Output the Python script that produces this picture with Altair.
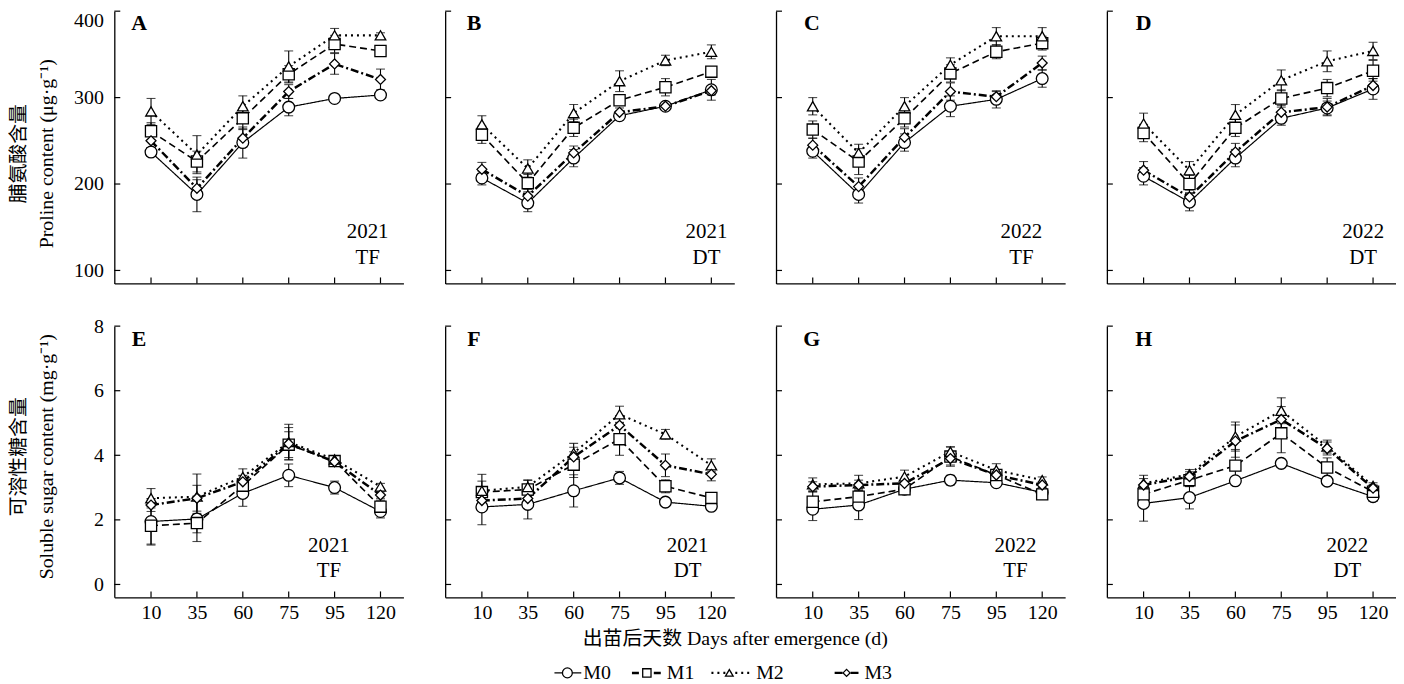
import json
import altair as alt
import pandas as pd

# ---------------- data ----------------
days = ["10", "35", "60", "75", "95", "120"]
series = ["M0", "M1", "M2", "M3"]
panel_ids = ["A", "B", "C", "D", "E", "F", "G", "H"]
panel_year = ["2021", "2021", "2022", "2022", "2021", "2021", "2022", "2022"]
panel_site = ["TF", "DT", "TF", "DT", "TF", "DT", "TF", "DT"]
proline_ticks = [100, 200, 300, 400]
sugar_ticks = [0, 2, 4, 6, 8]

# Proline content (ug/g)
A_mean = {"M0": [237, 188, 248, 289, 299, 303], "M1": [261, 226, 276, 327, 362, 354],
          "M2": [284, 234, 290, 336, 372, 372], "M3": [250, 195, 253, 307, 339, 321]}
A_err = {"M0": [5, 20, 18, 10, 3, 4], "M1": [10, 12, 12, 10, 10, 6],
         "M2": [15, 22, 12, 18, 8, 3], "M3": [8, 10, 10, 8, 12, 12]}
B_mean = {"M0": [207, 178, 230, 279, 290, 309], "M1": [257, 201, 265, 297, 312, 330],
          "M2": [269, 218, 282, 319, 343, 353], "M3": [217, 186, 236, 283, 290, 308]}
B_err = {"M0": [8, 10, 10, 5, 4, 12], "M1": [10, 10, 10, 5, 10, 5],
         "M2": [10, 10, 10, 12, 6, 8], "M3": [8, 8, 8, 5, 4, 5]}
C_mean = {"M0": [238, 188, 248, 290, 298, 322], "M1": [263, 226, 276, 328, 353, 363],
          "M2": [290, 236, 290, 338, 371, 371], "M3": [245, 197, 254, 307, 301, 340]}
C_err = {"M0": [8, 10, 10, 12, 10, 10], "M1": [10, 15, 10, 10, 8, 8],
         "M2": [10, 10, 10, 8, 10, 10], "M3": [8, 10, 10, 10, 6, 8]}
D_mean = {"M0": [209, 179, 230, 276, 288, 310], "M1": [259, 200, 265, 299, 311, 331],
          "M2": [270, 216, 280, 320, 342, 354], "M3": [216, 185, 237, 283, 289, 314]}
D_err = {"M0": [10, 10, 10, 8, 8, 12], "M1": [10, 10, 10, 10, 10, 12],
         "M2": [12, 10, 12, 12, 12, 10], "M3": [10, 8, 10, 8, 10, 8]}

# Soluble sugar content (mg/g)
E_mean = {"M0": [1.95, 2.03, 2.82, 3.38, 3.00, 2.26], "M1": [1.82, 1.90, 3.06, 4.33, 3.82, 2.41],
          "M2": [2.67, 2.72, 3.33, 4.41, 3.87, 3.03], "M3": [2.46, 2.67, 3.18, 4.36, 3.80, 2.77]}
E_err = {"M0": [0.70, 0.70, 0.40, 0.35, 0.20, 0.20], "M1": [0.60, 0.30, 0.30, 0.40, 0.10, 0.20],
         "M2": [0.30, 0.70, 0.25, 0.55, 0.10, 0.10], "M3": [0.20, 0.40, 0.20, 0.50, 0.10, 0.10]}
F_mean = {"M0": [2.40, 2.48, 2.90, 3.30, 2.55, 2.42], "M1": [2.86, 2.94, 3.71, 4.50, 3.04, 2.68],
          "M2": [2.90, 3.02, 4.07, 5.27, 4.65, 3.69], "M3": [2.60, 2.66, 3.95, 4.93, 3.69, 3.41]}
F_err = {"M0": [0.55, 0.45, 0.50, 0.20, 0.10, 0.10], "M1": [0.55, 0.30, 0.40, 0.50, 0.20, 0.10],
         "M2": [0.30, 0.20, 0.30, 0.25, 0.15, 0.20], "M3": [0.20, 0.20, 0.30, 0.30, 0.35, 0.20]}
G_mean = {"M0": [2.33, 2.46, 2.95, 3.23, 3.15, 2.85], "M1": [2.56, 2.72, 2.95, 3.96, 3.39, 2.79],
          "M2": [3.10, 3.13, 3.34, 4.11, 3.54, 3.23], "M3": [3.03, 3.08, 3.13, 3.90, 3.39, 3.08]}
G_err = {"M0": [0.35, 0.45, 0.10, 0.15, 0.10, 0.10], "M1": [0.30, 0.25, 0.10, 0.30, 0.15, 0.10],
         "M2": [0.20, 0.25, 0.20, 0.15, 0.20, 0.10], "M3": [0.15, 0.15, 0.10, 0.20, 0.10, 0.10]}
H_mean = {"M0": [2.51, 2.69, 3.21, 3.75, 3.20, 2.72], "M1": [2.79, 3.23, 3.68, 4.68, 3.62, 2.87],
          "M2": [3.13, 3.41, 4.58, 5.38, 4.27, 3.05], "M3": [3.08, 3.34, 4.44, 5.11, 4.21, 2.98]}
H_err = {"M0": [0.55, 0.35, 0.10, 0.10, 0.10, 0.15], "M1": [0.30, 0.20, 0.50, 0.60, 0.30, 0.20],
         "M2": [0.25, 0.15, 0.45, 0.40, 0.20, 0.10], "M3": [0.20, 0.15, 0.50, 0.40, 0.20, 0.10]}

means = [A_mean, B_mean, C_mean, D_mean, E_mean, F_mean, G_mean, H_mean]
errs = [A_err, B_err, C_err, D_err, E_err, F_err, G_err, H_err]

rows = []
for pid, m, e in zip(panel_ids, means, errs):
    for s in series:
        for i, d in enumerate(days):
            rows.append({"panel": pid, "series": s, "xi": i, "day": d,
                         "mean": m[s][i], "lo": m[s][i] - e[s][i], "hi": m[s][i] + e[s][i]})
df = pd.DataFrame(rows)

# ---------------- styles ----------------
FONT = "Liberation Serif, Times New Roman, Noto Sans CJK SC"
W = 291
H_TOP = 274
H_BOT = 273
dashes = [[1, 0], [7, 4], [2, 4], [8, 3, 2, 3]]
widths = [1.2, 2.5, 2.3, 2.3]
shapes = ["circle", "square", "triangle-up", "diamond"]
sizes = [140, 100, 85, 70]

letter_x = [25, 29, 36, 37]
year_x_top = [255, 263, 247, 258]
year_x_bot = [216, 244, 241, 242]

label_expr = json.dumps(days).replace('"', "'") + "[datum.value]"


def make_panel(idx):
    pid = panel_ids[idx]
    row = 0 if idx < 4 else 1
    col = idx % 4
    d = df[df.panel == pid]
    if row == 0:
        ydom, yvals, h = [85, 400], proline_ticks, H_TOP
        ytitle = ["脯氨酸含量", "Proline content (μg·g⁻¹)"]
        title_y = 143
    else:
        ydom, yvals, h = [-0.4, 8], sugar_ticks, H_BOT
        ytitle = ["可溶性糖含量", "Soluble sugar content (mg·g⁻¹)"]
        title_y = 131

    xscale = alt.Scale(domain=[-0.8, 5.5], nice=False, zero=False)
    yscale = alt.Scale(domain=ydom, nice=False, zero=False)
    xaxis = alt.Axis(values=list(range(6)), labelExpr=label_expr, labels=(row == 1),
                     ticks=False, title=None, labelPadding=5, labelFlush=False, grid=False)
    if col == 0:
        yaxis = alt.Axis(values=yvals, labels=True, ticks=False, labelPadding=11,
                         labelFlush=(row == 0), labelFlushOffset=1, grid=False, title=ytitle, titleX=-86,
                         titleY=title_y, titleLineHeight=28, titleBaseline="bottom")
    else:
        yaxis = alt.Axis(values=yvals, labels=False, ticks=False, grid=False, title=None)

    X = lambda f: alt.X(f, scale=xscale, axis=xaxis)
    Y = lambda f: alt.Y(f, scale=yscale, axis=yaxis)

    ytick = alt.Chart(pd.DataFrame({"v": yvals})).mark_rule(color="black", strokeWidth=1.2).encode(
        y=Y("v:Q"), x=alt.value(0), x2=alt.value(6))
    xtick = alt.Chart(pd.DataFrame({"xi": list(range(6))})).mark_rule(color="black", strokeWidth=1.2).encode(
        x=X("xi:Q"), y=alt.value(h), y2=alt.value(h - 6))

    base = alt.Chart(d)
    err_rule = base.mark_rule(color="black", strokeWidth=1.1).encode(
        x=X("xi:Q"), y=Y("lo:Q"), y2="hi:Q")
    cap_lo = base.mark_tick(orient="horizontal", color="black", size=9, thickness=1.1).encode(
        x=X("xi:Q"), y=Y("lo:Q"))
    cap_hi = base.mark_tick(orient="horizontal", color="black", size=9, thickness=1.1).encode(
        x=X("xi:Q"), y=Y("hi:Q"))
    lines = base.mark_line(color="black").encode(
        x=X("xi:Q"), y=Y("mean:Q"),
        detail="series:N",
        strokeDash=alt.StrokeDash("series:N", scale=alt.Scale(domain=series, range=dashes), legend=None),
        strokeWidth=alt.StrokeWidth("series:N", scale=alt.Scale(domain=series, range=widths), legend=None))
    points = base.mark_point(filled=True, fill="white", stroke="black", strokeWidth=1.3, opacity=1).encode(
        x=X("xi:Q"), y=Y("mean:Q"),
        shape=alt.Shape("series:N", scale=alt.Scale(domain=series, range=shapes), legend=None),
        size=alt.Size("series:N", scale=alt.Scale(domain=series, range=sizes), legend=None))

    letter = alt.Chart(pd.DataFrame({"t": [pid]})).mark_text(
        font=FONT, fontSize=22, fontWeight="bold", align="center", baseline="middle", color="black").encode(
        text="t:N", x=alt.value(letter_x[col]), y=alt.value(12 if row == 0 else 13))
    yx = year_x_top[col] if row == 0 else year_x_bot[col]
    yy = (222, 248) if row == 0 else (221, 246)
    year = alt.Chart(pd.DataFrame({"t": [panel_year[idx]]})).mark_text(
        font=FONT, fontSize=21, align="center", baseline="middle", color="black").encode(
        text="t:N", x=alt.value(yx), y=alt.value(yy[0]))
    site = alt.Chart(pd.DataFrame({"t": [panel_site[idx]]})).mark_text(
        font=FONT, fontSize=21, align="center", baseline="middle", color="black").encode(
        text="t:N", x=alt.value(yx), y=alt.value(yy[1]))

    return alt.layer(ytick, xtick, err_rule, cap_lo, cap_hi, lines, points, letter, year, site).properties(
        width=W, height=h)


top = alt.hconcat(*[make_panel(i) for i in range(4)], spacing=41)
bottom = alt.hconcat(*[make_panel(i) for i in range(4, 8)], spacing=41)

# ---------------- legend + shared x title ----------------
# positions below are relative to the left edge of the first plot area
leg_df = pd.DataFrame({"series": series})
leg_line_x = [(443, 470), (521, 552), (601, 640), (725, 750)]
leg_sym_x = [456, 536, 619, 737]
leg_txt_x = [472, 556, 646, 755]
LEG_Y = 49
legend_layers = []
xtitle = alt.Chart(pd.DataFrame({"t": ["出苗后天数 Days after emergence (d)"]})).mark_text(
    font=FONT, fontSize=20, align="center", baseline="middle", color="black").encode(
    text="t:N", x=alt.value(625), y=alt.value(15))
legend_layers.append(xtitle)
for k, s in enumerate(series):
    sd = leg_df[leg_df.series == s]
    legend_layers.append(alt.Chart(sd).mark_rule(color="black", strokeWidth=widths[k], strokeDash=dashes[k]).encode(
        x=alt.value(leg_line_x[k][0]), x2=alt.value(leg_line_x[k][1]), y=alt.value(LEG_Y)))
    legend_layers.append(alt.Chart(sd).mark_point(filled=True, fill="white", stroke="black", strokeWidth=1.3,
                                                 opacity=1, shape=shapes[k], size=sizes[k] * 0.7).encode(
        x=alt.value(leg_sym_x[k]), y=alt.value(LEG_Y)))
    legend_layers.append(alt.Chart(sd).mark_text(font=FONT, fontSize=20, align="left", baseline="middle",
                                                color="black").encode(
        text="series:N", x=alt.value(leg_txt_x[k]), y=alt.value(LEG_Y)))
legend = alt.layer(*legend_layers).properties(width=1250, height=60)

chart = alt.vconcat(alt.vconcat(top, bottom, spacing=32), legend, spacing=2).properties(
    padding={"left": 0, "top": 0, "right": 0, "bottom": 0}
).configure_view(stroke=None).configure_axis(
    domainColor="black", domainWidth=1.3, labelFont=FONT, labelFontSize=20, labelColor="black",
    titleFont=FONT, titleFontSize=20, titleColor="black", titleFontWeight="normal"
)

chart.save("out.html", embed_options={"renderer": "svg", "actions": False})
